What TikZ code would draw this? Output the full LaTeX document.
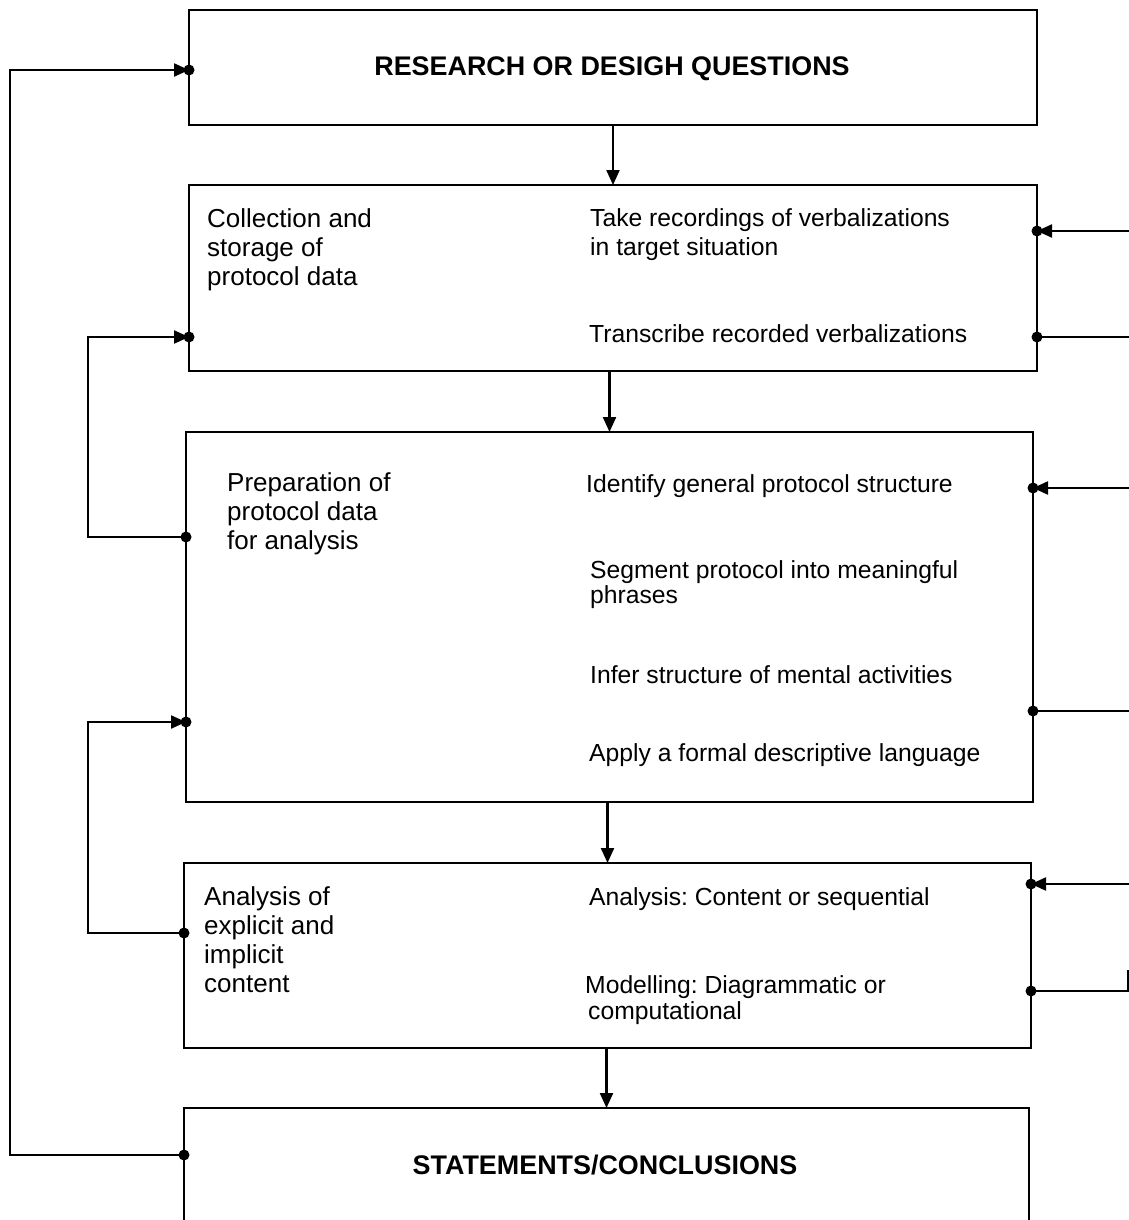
\documentclass[tikz,border=0pt]{standalone}
\usepackage{fontspec}
\setmainfont{Liberation Sans}
\usetikzlibrary{arrows.meta}
\frenchspacing
\tikzset{
  box/.style={draw, line width=2.2pt, rectangle, inner sep=0pt, outer sep=0pt, anchor=north west},
  conn/.style={line width=2.2pt},
  arr/.style={line width=2.2pt, -{Triangle[length=15pt,width=13pt]}},
  txt/.style={anchor=base west, inner sep=0pt, font=\fontsize{24.7}{29}\selectfont},
  ltxt/.style={anchor=base west, inner sep=0pt, font=\fontsize{26}{29}\selectfont},
  ttl/.style={anchor=base, inner sep=0pt, font=\fontsize{26.9}{30}\selectfont\bfseries},
  dotc/.style={fill, radius=5.5pt}
}
\begin{document}
\begin{tikzpicture}[x=1pt,y=-1pt]
\useasboundingbox (0,0) rectangle (1129,1220);
\clip (0,0) rectangle (1129,1220);
% boxes
\node[box, minimum width=848pt, minimum height=115pt] (b1) at (189,10) {};
\node[box, minimum width=848pt, minimum height=186pt] (b2) at (189,185) {};
\node[box, minimum width=847pt, minimum height=370pt] (b3) at (186,432) {};
\node[box, minimum width=847pt, minimum height=185pt] (b4) at (184,863) {};
\node[box, minimum width=845pt, minimum height=160pt] (b5) at (184,1108) {};
% texts
\node[ttl] (t1) at (612,76) {RESEARCH OR DESIGH QUESTIONS};
\node[ttl] (t5) at (605,1174) {STATEMENTS/CONCLUSIONS};
\node[ltxt] (c1) at (207,227) {Collection and};
\node[ltxt] (c2) at (207,256) {storage of};
\node[ltxt] (c3) at (207,285) {protocol data};
\node[txt] (r21) at (590,226) {Take recordings of verbalizations};
\node[txt] (r22) at (590,255) {in target situation};
\node[txt] (r23) at (589,342) {Transcribe recorded verbalizations};
\node[ltxt] (p1) at (227,491) {Preparation of};
\node[ltxt] (p2) at (227,520) {protocol data};
\node[ltxt] (p3) at (227,549) {for analysis};
\node[txt] (r31) at (586,492) {Identify general protocol structure};
\node[txt] (r32) at (590,578) {Segment protocol into meaningful};
\node[txt] (r33) at (590,603) {phrases};
\node[txt] (r34) at (590,683) {Infer structure of mental activities};
\node[txt] (r35) at (589,761) {Apply a formal descriptive language};
\node[ltxt] (a1) at (204,905) {Analysis of};
\node[ltxt] (a2) at (204,934) {explicit and};
\node[ltxt] (a3) at (204,963) {implicit};
\node[ltxt] (a4) at (204,992) {content};
\node[txt] (r41) at (589,905) {Analysis: Content or sequential};
\node[txt] (r42) at (585,993) {Modelling: Diagrammatic or};
\node[txt] (r43) at (588,1019) {computational};
% vertical flow arrows
\draw[arr] (b1.south) -- (b2.north);
\draw[arr] (b3.north |- b2.south) -- (b3.north);
\draw[arr] (b4.north |- b3.south) -- (b4.north);
\draw[arr] (b5.north |- b4.south) -- (b5.north);
% left feedback loops
\draw[arr] (b3.west |- 0,537) -- (88,537) -- (88,337) -- (b2.west |- 0,337);
\fill[dotc] (b3.west |- 0,537) circle;
\fill[dotc] (b2.west |- 0,337) circle;
\draw[arr] (b4.west |- 0,933) -- (88,933) -- (88,722) -- (b3.west |- 0,722);
\fill[dotc] (b4.west |- 0,933) circle;
\fill[dotc] (b3.west |- 0,722) circle;
\draw[arr] (b5.west |- 0,1155) -- (10,1155) -- (10,70) -- (b1.west |- 0,70);
\fill[dotc] (b5.west |- 0,1155) circle;
\fill[dotc] (b1.west |- 0,70) circle;
% right side connectors
\coordinate (e1) at (1129,231);
\coordinate (e2) at (1129,337);
\coordinate (e3) at (1129,488);
\coordinate (e4) at (1129,711);
\coordinate (e5) at (1129,884);
\coordinate (e6) at (1128,970);
\draw[arr] (e1) -- (b2.east |- e1);
\fill[dotc] (b2.east |- e1) circle;
\draw[conn] (b2.east |- e2) -- (e2);
\fill[dotc] (b2.east |- e2) circle;
\draw[arr] (e3) -- (b3.east |- e3);
\fill[dotc] (b3.east |- e3) circle;
\draw[conn] (b3.east |- e4) -- (e4);
\fill[dotc] (b3.east |- e4) circle;
\draw[arr] (e5) -- (b4.east |- e5);
\fill[dotc] (b4.east |- e5) circle;
\draw[conn] (b4.east |- 0,991) -- (1128,991) -- (e6);
\fill[dotc] (b4.east |- 0,991) circle;
\end{tikzpicture}
\end{document}
